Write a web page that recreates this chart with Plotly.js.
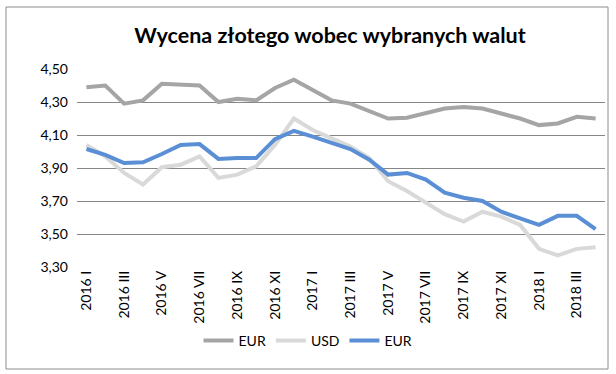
<!DOCTYPE html>
<html>
<head>
<meta charset="utf-8">
<script src="https://cdn.plot.ly/plotly-3.0.1.min.js"></script>
<style>
html,body{margin:0;padding:0;background:#fff;}
#chart{width:616px;height:374px;}
</style>
</head>
<body>
<div id="chart"></div>
<script>
const months = ["I","II","III","IV","V","VI","VII","VIII","IX","X","XI","XII"];
const years = ["2016","2016","2016","2016","2016","2016","2016","2016","2016","2016","2016","2016",
               "2017","2017","2017","2017","2017","2017","2017","2017","2017","2017","2017","2017",
               "2018","2018","2018","2018"];
const categories = years.map((y, i) => y + " " + months[i % 12]);

const eurMid = [4.39,4.40,4.29,4.31,4.41,4.405,4.40,4.30,4.32,4.31,4.385,4.435,
                4.37,4.31,4.29,4.245,4.20,4.205,4.23,4.26,4.27,4.26,4.23,4.20,
                4.16,4.17,4.21,4.20];
const usd    = [4.04,3.97,3.87,3.80,3.905,3.92,3.97,3.84,3.86,3.91,4.04,4.20,
                4.13,4.08,4.03,3.96,3.82,3.76,3.69,3.62,3.575,3.635,3.605,3.555,
                3.41,3.37,3.41,3.42];
const eurBlue= [4.015,3.98,3.93,3.935,3.985,4.04,4.045,3.955,3.96,3.96,4.075,4.125,
                4.09,4.05,4.015,3.95,3.86,3.87,3.83,3.75,3.72,3.70,3.635,3.595,
                3.555,3.61,3.61,3.53];
const seriesNames = ["EUR","USD","EUR"];
const seriesColors = ["#A5A5A5","#D9D9D9","#5B8FD5"];
const yTicks = [3.3,3.5,3.7,3.9,4.1,4.3,4.5];
const yTickText = ["3,30","3,50","3,70","3,90","4,10","4,30","4,50"];
const xTickVals = categories.filter((c, i) => i % 2 === 0);

const data = [eurMid, usd, eurBlue].map((vals, k) => ({
  type: "scatter", mode: "lines",
  x: categories, y: vals, name: seriesNames[k],
  line: {color: seriesColors[k], width: 4},
  hoverinfo: "x+y"
}));

const W = 616, H = 374, L = 77, R = 605, T = 69, B = 267;
const px = v => (v - L) / (R - L);
const py = v => (B - v) / (B - T);

const layout = {
  width: W, height: H,
  margin: {l: L, r: W - R, t: T, b: H - B, pad: 0},
  paper_bgcolor: "#fff", plot_bgcolor: "#fff",
  font: {family: "Lato, 'Open Sans', sans-serif", size: 14, color: "#000"},
  title: {text: "<b>Wycena złotego wobec wybranych walut</b>",
          font: {size: 21.5, family: "Lato, 'Open Sans', sans-serif", color: "#000"},
          x: 330 / W, xanchor: "center", xref: "container",
          y: 1 - 35 / H, yanchor: "middle", yref: "container"},
  showlegend: true,
  legend: {orientation: "h", xref: "container", yref: "container",
           x: 308 / W, xanchor: "center", y: 1 - 341 / H, yanchor: "middle",
           font: {size: 14}, itemwidth: 30, tracegroupgap: 0},
  xaxis: {type: "category", range: [-0.5, 27.5], tickmode: "array",
          tickvals: xTickVals, ticktext: xTickVals, tickangle: -90,
          showgrid: false, zeroline: false, showline: false, ticks: "",
          tickfont: {size: 14}, fixedrange: true},
  yaxis: {range: [3.3, 4.5], tickmode: "array", tickvals: yTicks, ticktext: yTickText,
          showgrid: true, gridcolor: "#868686", gridwidth: 1, zeroline: false,
          showline: false, ticks: "", ticklabelstandoff: 8,
          tickfont: {size: 14}, fixedrange: true},
  shapes: [{type: "rect", xref: "paper", yref: "paper",
            x0: px(6), x1: px(608), y0: py(369), y1: py(7),
            line: {color: "#8C8C8C", width: 1}, fillcolor: "rgba(0,0,0,0)", layer: "below"}]
};

Plotly.newPlot("chart", data, layout, {staticPlot: true, displayModeBar: false});
</script>
</body>
</html>
